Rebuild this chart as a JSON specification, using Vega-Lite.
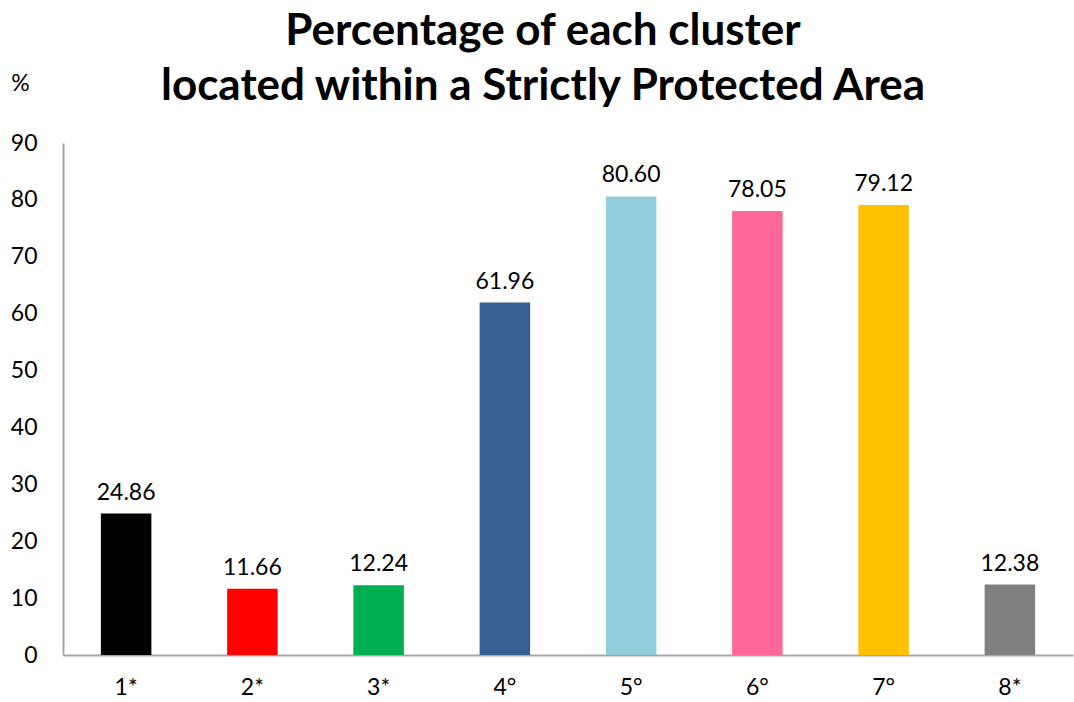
{
  "$schema": "https://vega.github.io/schema/vega-lite/v6.json",
  "width": 1010,
  "height": 512,
  "autosize": {"type": "none"},
  "padding": {"left": 63, "top": 143, "right": 1, "bottom": 47},
  "background": "white",
  "config": {"view": {"stroke": null}, "font": "Lato"},
  "title": {
    "text": ["Percentage of each cluster", "located within a Strictly Protected Area"],
    "anchor": "middle",
    "dx": -25,
    "fontSize": 44,
    "fontWeight": "bold",
    "font": "Lato",
    "color": "#000000",
    "lineHeight": 55,
    "offset": -37
  },
  "data": {
    "values": [
      {"cluster": "1*", "pct": 24.86, "color": "#000000"},
      {"cluster": "2*", "pct": 11.66, "color": "#ff0000"},
      {"cluster": "3*", "pct": 12.24, "color": "#00b050"},
      {"cluster": "4°", "pct": 61.96, "color": "#366092"},
      {"cluster": "5°", "pct": 80.60, "color": "#92cddc"},
      {"cluster": "6°", "pct": 78.05, "color": "#ff6699"},
      {"cluster": "7°", "pct": 79.12, "color": "#ffc000"},
      {"cluster": "8*", "pct": 12.38, "color": "#808080"}
    ]
  },
  "encoding": {
    "x": {
      "field": "cluster", "type": "nominal", "sort": null,
      "scale": {"paddingInner": 0.6, "paddingOuter": 0.3},
      "axis": {
        "title": null, "labelAngle": 0, "labelFontSize": 23, "labelColor": "#000000",
        "labelPadding": 21, "ticks": false, "domainColor": "#a6a6a6", "domainWidth": 2, "grid": false
      }
    },
    "y": {
      "field": "pct", "type": "quantitative",
      "scale": {"domain": [0, 90], "nice": false},
      "axis": {
        "values": [0, 10, 20, 30, 40, 50, 60, 70, 80, 90],
        "title": "%", "titleAngle": 0, "titleX": -43, "titleY": -53, "titleAlign": "center",
        "titleBaseline": "alphabetic", "titleFontSize": 23, "titleFontWeight": "normal", "titleColor": "#000000",
        "labelFontSize": 23, "labelColor": "#000000", "labelPadding": 26, "ticks": false,
        "domainColor": "#a6a6a6", "domainWidth": 2, "grid": false
      }
    }
  },
  "layer": [
    {
      "mark": {"type": "bar"},
      "encoding": {"color": {"field": "color", "type": "nominal", "scale": null}}
    },
    {
      "mark": {"type": "text", "dy": -21, "fontSize": 23, "color": "#000000", "font": "Lato"},
      "encoding": {"text": {"field": "pct", "type": "quantitative", "format": ".2f"}}
    }
  ]
}
